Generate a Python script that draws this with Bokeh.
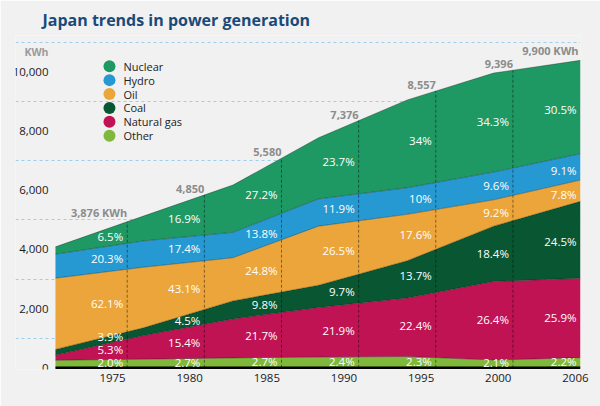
import numpy as np
from bokeh.plotting import figure
from bokeh.models import Range1d, FixedTicker
from bokeh.core.properties import value
from bokeh.embed import file_html
from bokeh.resources import INLINE

# ---------------- data ----------------
# x (in year units) where the drawn areas bend
area_x = [1971.3, 1977.0, 1982.8, 1988.35, 1994.1, 1999.7, 2005.33]
# drawn thickness of each band, stacked bottom-up (KWh scale of the y axis)
other = [250, 290, 330, 360, 380, 260, 340]
gas = [180, 800, 1320, 1680, 1980, 2660, 2690]
coal = [190, 260, 610, 750, 1260, 1870, 2600]
oil = [2410, 2050, 1460, 2000, 1570, 890, 720]
hydro = [810, 890, 860, 920, 900, 940, 890]
nuclear = [250, 840, 1600, 2070, 2970, 3350, 3160]

years = ["1975", "1980", "1985", "1990", "1995", "2000", "2006"]
year_ticks = [1975, 1980, 1985, 1990, 1995, 2000, 2005]
totals = [3876, 4850, 5580, 7376, 8557, 9396, 9900]

pct_nuclear = ["6.5%", "16.9%", "27.2%", "23.7%", "34%", "34.3%", "30.5%"]
pct_hydro = ["20.3%", "17.4%", "13.8%", "11.9%", "10%", "9.6%", "9.1%"]
pct_oil = ["62.1%", "43.1%", "24.8%", "26.5%", "17.6%", "9.2%", "7.8%"]
pct_coal = ["3.9%", "4.5%", "9.8%", "9.7%", "13.7%", "18.4%", "24.5%"]
pct_gas = ["5.3%", "15.4%", "21.7%", "21.9%", "22.4%", "26.4%", "25.9%"]
pct_other = ["2.0%", "2.7%", "2.7%", "2.4%", "2.3%", "2.1%", "2.2%"]

y_ticks = [0, 2000, 4000, 6000, 8000, 10000]
grid_ticks = [1000, 3000, 5000, 7000, 9000, 11000]

names = ["Other", "Natural gas", "Coal", "Oil", "Hydro", "Nuclear"]
colors = ["#7fb83b", "#c01354", "#095732", "#eba53a", "#2699d2", "#1f9964"]
series = [other, gas, coal, oil, hydro, nuclear]
pcts = [pct_other, pct_gas, pct_coal, pct_oil, pct_hydro, pct_nuclear]

FONT = value("Open Sans")

# ---------------- figure ----------------
X0, X1 = 1968.71, area_x[-1]
p = figure(width=600, height=406, output_backend="svg", toolbar_location=None,
           x_range=Range1d(X0, X1), y_range=Range1d(-60, 11240),
           y_axis_location=None,
           min_border_left=15, min_border_right=20, min_border_top=35,
           min_border_bottom=37)
p.background_fill_color = "#f1f1f1"
p.border_fill_color = "#f1f1f1"
p.outline_line_color = None

p.title.text = "Japan trends in power generation"
p.title.text_font = "Open Sans"
p.title.text_font_style = "bold"
p.title.text_font_size = "16px"
p.title.text_color = "#1a4a7a"
p.title.offset = 27
p.title.standoff = 9

p.xgrid.visible = False
p.ygrid.ticker = FixedTicker(ticks=grid_ticks)
p.ygrid.grid_line_color = "#9ccfee"
p.ygrid.grid_line_dash = "3 3"
p.ygrid.grid_line_width = 1

ax = p.xaxis[0]
ax.ticker = FixedTicker(ticks=year_ticks)
ax.major_label_overrides = {t: s for t, s in zip(year_ticks, years)}
ax.axis_line_color = None
ax.major_tick_line_color = None
ax.minor_tick_line_color = None
ax.major_tick_out = 0
ax.major_tick_in = 0
ax.minor_tick_out = 0
ax.major_label_text_font = "Open Sans"
ax.major_label_text_font_size = "11.5px"
ax.major_label_text_color = "#1a1a1a"
ax.major_label_standoff = 4

# ---------------- stacked areas ----------------
arr = np.array(series, dtype=float)
tops = np.cumsum(arr, axis=0)
bots = np.vstack([np.zeros(len(area_x)), tops[:-1]])
for k in range(len(series)):
    p.varea(x=area_x, y1=bots[k], y2=tops[k], fill_color=colors[k])
for k in range(len(series)):
    p.line(x=area_x, y=tops[k], line_color="black", line_alpha=0.3, line_width=1)

# baseline (x axis line)
p.line(x=[area_x[0], area_x[-1]], y=[0, 0], line_color="black", line_width=2.5)

# year columns: dashed separators just right of each year tick
col_x = [t + 0.95 for t in year_ticks[:-1]] + [area_x[-1]]
col_top = np.interp(col_x, area_x, tops[-1])
p.segment(x0=col_x[:-1], y0=[0] * (len(col_x) - 1), x1=col_x[:-1], y1=col_top[:-1],
          line_color="black", line_alpha=0.45, line_width=1, line_dash="3 2")

# percentage labels: mid-band at label centre, pushed apart when bands are thin
lab_x = np.array(col_x) - 1.3
px, py, pt = [], [], []
for j in range(len(col_x)):
    prev = -1e9
    for k in range(len(series)):
        t = np.interp(lab_x[j], area_x, tops[k])
        b = np.interp(lab_x[j], area_x, bots[k])
        yk = max((t + b) / 2, prev + 440)
        prev = yk
        px.append(col_x[j]); py.append(yk); pt.append(pcts[k][j])
p.text(x=px, y=py, text=pt, x_offset=-4, y_offset=-1, text_align="right",
       text_baseline="middle", text_color="white", text_font=FONT,
       text_font_size="11.5px")

# totals above the curve
tot_txt = [f"{v:,}" for v in totals]
tot_txt[0] += " KWh"
tot_txt[-1] += " KWh"
tot_off = [0] * (len(col_x) - 1) + [-2]
p.text(x=col_x, y=col_top, text=tot_txt, x_offset=tot_off, y_offset=-2,
       text_align="right", text_baseline="bottom", text_color="#8c8c8c",
       text_font=FONT, text_font_style="bold", text_font_size="11px")

# y tick labels and unit
p.text(x=[X0] * len(y_ticks), y=y_ticks, text=[f"{v:,}" for v in y_ticks],
       x_offset=33, text_align="right", text_baseline="middle",
       text_color="#1a1a1a", text_font=FONT, text_font_size="11.5px")
p.text(x=[X0], y=[y_ticks[-1]], text=["KWh"], x_offset=33, y_offset=-20,
       text_align="right", text_baseline="middle", text_color="#9a9a9a",
       text_font=FONT, text_font_style="bold", text_font_size="10.5px")

# legend (circles + names), top-down order
leg_names = names[::-1]
leg_cols = colors[::-1]
leg_x = 1974.8
leg_y = [10200 - i * 470 for i in range(len(leg_names))]
p.scatter(x=[leg_x] * len(leg_names), y=leg_y, size=12, marker="circle",
          fill_color=leg_cols, line_color=None)
p.text(x=[leg_x] * len(leg_names), y=leg_y, text=leg_names, x_offset=14,
       text_align="left", text_baseline="middle", text_color="#222222",
       text_font=FONT, text_font_size="11px")

open("out.html", "w").write(file_html(p, INLINE))
